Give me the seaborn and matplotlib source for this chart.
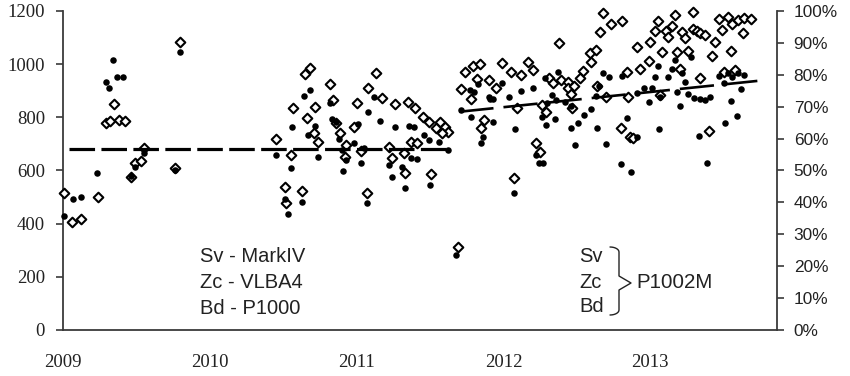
import matplotlib
matplotlib.use("Agg")
import matplotlib.pyplot as plt
import seaborn as sns
import numpy as np
from matplotlib.lines import Line2D
from matplotlib.transforms import IdentityTransform

# ---------------- data ----------------
diamond_points = [
    (2009.01, 514), (2009.06, 407), (2009.12, 416), (2009.24, 501), (2009.29, 778),
    (2009.32, 787), (2009.35, 849), (2009.38, 790), (2009.42, 785), (2009.46, 577),
    (2009.49, 627), (2009.53, 637), (2009.55, 686), (2009.76, 611), (2009.80, 1085),
    (2010.45, 719), (2010.55, 658), (2010.51, 539), (2010.52, 477), (2010.63, 524),
    (2010.57, 834), (2010.65, 962), (2010.68, 984), (2010.66, 799), (2010.72, 838),
    (2010.71, 740), (2010.74, 708), (2010.82, 924), (2010.84, 865), (2010.86, 778),
    (2010.89, 740), (2010.93, 696), (2010.92, 652), (2011.00, 853), (2010.98, 763),
    (2011.13, 968), (2011.08, 909), (2011.17, 872), (2011.03, 673), (2011.26, 849),
    (2011.35, 859), (2011.40, 836), (2011.45, 802), (2011.49, 784), (2011.57, 784),
    (2011.54, 759), (2011.60, 763), (2011.62, 746), (2011.58, 742), (2011.37, 708),
    (2011.41, 702), (2011.22, 690), (2011.32, 667), (2011.24, 646), (2011.33, 592),
    (2011.51, 587), (2011.07, 514),
    (2011.69, 313), (2011.74, 972), (2011.79, 993), (2011.84, 1000), (2011.82, 943),
    (2011.90, 940), (2011.71, 906), (2011.78, 868), (2011.95, 909), (2011.99, 1006),
    (2012.05, 972), (2012.12, 959), (2012.17, 1009), (2012.20, 978), (2012.09, 834),
    (2012.26, 846), (2011.87, 790), (2011.85, 759), (2012.07, 571), (2012.22, 702),
    (2012.25, 671),
    (2012.68, 1191), (2012.66, 1120), (2012.73, 1151), (2012.81, 1164), (2012.38, 1079),
    (2012.59, 1041), (2012.63, 1053), (2012.60, 1009), (2012.91, 1066), (2012.93, 981),
    (2012.84, 972), (2012.54, 976), (2012.52, 947), (2012.31, 947), (2012.34, 928),
    (2012.39, 940), (2012.44, 934), (2012.44, 909), (2012.48, 918), (2012.46, 888),
    (2012.64, 918), (2012.70, 878), (2012.85, 875), (2012.47, 834), (2012.29, 821),
    (2012.80, 759), (2012.86, 727), (2012.88, 721),
    (2013.29, 1198), (2013.17, 1185), (2013.05, 1164), (2013.03, 1125), (2013.11, 1126),
    (2013.15, 1144), (2013.22, 1122), (2013.12, 1101), (2013.24, 1097), (2013.29, 1131),
    (2013.32, 1126), (2013.34, 1116), (2013.37, 1110), (2013.47, 1169), (2013.53, 1179),
    (2013.56, 1151), (2013.60, 1166), (2013.64, 1172), (2013.69, 1170), (2013.49, 1129),
    (2013.63, 1118), (2013.44, 1085), (2013.00, 1085), (2013.08, 1047), (2013.18, 1044),
    (2013.26, 1050), (2013.42, 1031), (2013.55, 1051), (2012.99, 1013), (2013.20, 981),
    (2013.34, 947), (2013.50, 972), (2013.58, 978), (2013.07, 884), (2013.40, 749),
]

dot_points = [
    (2009.01, 429), (2009.07, 493), (2009.12, 499), (2009.23, 592), (2009.29, 932),
    (2009.31, 910), (2009.34, 1016), (2009.37, 953), (2009.41, 953), (2009.46, 579),
    (2009.49, 614), (2009.55, 667), (2009.76, 602), (2009.80, 1047),
    (2010.45, 658), (2010.55, 608), (2010.51, 492), (2010.53, 436), (2010.63, 483),
    (2010.56, 765), (2010.64, 880), (2010.68, 903), (2010.72, 767), (2010.67, 734),
    (2010.74, 652), (2010.82, 853), (2010.83, 793), (2010.86, 784), (2010.88, 717),
    (2010.90, 677), (2010.93, 640), (2010.91, 598), (2010.98, 705),
    (2011.01, 775), (2011.12, 875), (2011.08, 821), (2011.16, 787), (2011.05, 683),
    (2011.03, 627), (2011.26, 763), (2011.36, 767), (2011.39, 763), (2011.46, 734),
    (2011.49, 715), (2011.56, 708), (2011.62, 677), (2011.22, 621), (2011.24, 577),
    (2011.31, 614), (2011.37, 646), (2011.41, 642), (2011.33, 535), (2011.50, 545),
    (2011.07, 479),
    (2011.68, 282), (2011.83, 925), (2011.77, 903), (2011.80, 897), (2011.91, 868),
    (2011.93, 868), (2011.99, 931), (2011.90, 878), (2011.71, 828), (2011.78, 800),
    (2011.93, 784), (2011.86, 725), (2011.85, 702), (2012.04, 878), (2012.12, 900),
    (2012.20, 912), (2012.08, 755), (2012.07, 514), (2012.26, 800), (2012.22, 658),
    (2012.24, 627), (2012.27, 627), (2012.28, 947),
    (2012.37, 972), (2012.68, 968), (2012.72, 953), (2012.81, 956), (2012.33, 884),
    (2012.36, 865), (2012.42, 859), (2012.46, 843), (2012.30, 855), (2012.65, 918),
    (2012.35, 793), (2012.29, 771), (2012.55, 809), (2012.60, 830), (2012.51, 780),
    (2012.46, 759), (2012.64, 759), (2012.84, 796), (2012.49, 696), (2012.70, 700),
    (2012.80, 623), (2012.87, 596), (2012.63, 880),
    (2013.05, 993), (2013.17, 1016), (2013.15, 981), (2013.28, 1028), (2013.03, 950),
    (2013.12, 950), (2013.22, 968), (2013.24, 934), (2012.96, 909), (2013.01, 909),
    (2013.47, 956), (2013.53, 966), (2013.56, 950), (2013.60, 968), (2013.64, 959),
    (2013.50, 928), (2013.62, 906), (2012.91, 890), (2012.99, 859), (2013.07, 875),
    (2013.18, 897), (2013.26, 888), (2013.30, 872), (2013.34, 868), (2013.37, 865),
    (2013.41, 875), (2013.20, 843), (2013.55, 862), (2013.59, 805), (2013.51, 778),
    (2013.06, 756), (2013.33, 730), (2013.39, 629), (2012.91, 725),
]

diamond_years = [p[0] for p in diamond_points]
diamond_values = [p[1] for p in diamond_points]
dot_years = [p[0] for p in dot_points]
dot_values = [p[1] for p in dot_points]

mean_line_years = [2009.04, 2011.63]
mean_line_values = [680, 680]
trend_line_years = [2011.70, 2013.73]
trend_line_values = [821, 937]

year_ticks = [2009, 2010, 2011, 2012, 2013]
left_ticks = [0, 200, 400, 600, 800, 1000, 1200]
right_ticks = [0, 10, 20, 30, 40, 50, 60, 70, 80, 90, 100]

left_labels = ["Sv - MarkIV", "Zc - VLBA4", "Bd - P1000"]
right_labels = ["Sv", "Zc", "Bd"]
group_label = "P1002M"

# ---------------- figure ----------------
sns.set_style("white")
plt.rcParams["font.family"] = ["Liberation Sans", "DejaVu Sans"]

W, H = 850, 376
fig = plt.figure(figsize=(W / 100, H / 100), dpi=100)
ax = fig.add_axes([63 / W, 1 - 330 / H, (777 - 63) / W, (330 - 11) / H])

axis_color = "#3a3a3a"

sns.scatterplot(x=diamond_years, y=diamond_values, ax=ax, marker="D", s=24,
                facecolor="white", edgecolor="black", linewidth=1.5, zorder=3,
                clip_on=False)
sns.scatterplot(x=dot_years, y=dot_values, ax=ax, marker="o", s=22,
                color="black", linewidth=0, zorder=4, clip_on=False)

ax.plot(mean_line_years, mean_line_values, color="black", lw=2.3,
        linestyle=(0, (8.0, 2.0)), zorder=5, solid_capstyle="butt")
ax.plot(trend_line_years, trend_line_values, color="black", lw=1.9,
        linestyle=(0, (13, 3.8)), zorder=5)

ax.set_xlim(2009, 2009 + 714 / 146.8)
ax.set_ylim(0, 1200)

for s in ["top", "right"]:
    ax.spines[s].set_visible(False)
for s in ["left", "bottom"]:
    ax.spines[s].set_color(axis_color)
    ax.spines[s].set_linewidth(1.3)

ax.set_xticks(year_ticks)
ax.set_xticks([y + 0.5 for y in year_ticks[:-1]] + [2013.5], minor=True)
ax.set_xticklabels([str(y) for y in year_ticks], family="Liberation Serif",
                   fontsize=13.5, color="#222222")
ax.tick_params(axis="x", which="both", direction="inout", length=8, width=1.2,
               color=axis_color, pad=13)
ax.set_yticks(left_ticks)
ax.set_yticklabels([str(v) for v in left_ticks], family="Liberation Serif",
                   fontsize=13.5, color="#222222")
ax.tick_params(axis="y", direction="out", length=5, width=1.2, color=axis_color, pad=8)
ax.set_xlabel("")
ax.set_ylabel("")

ax2 = ax.twinx()
ax2.set_ylim(0, 100)
for s in ["top", "left", "bottom"]:
    ax2.spines[s].set_visible(False)
ax2.spines["right"].set_color(axis_color)
ax2.spines["right"].set_linewidth(1.3)
ax2.set_yticks(right_ticks)
ax2.set_yticklabels([f"{v}%" for v in right_ticks], family="Liberation Sans",
                    fontsize=12.4, color="#222222")
ax2.tick_params(axis="y", direction="out", length=5, width=1.2, color=axis_color, pad=7)

# ---------------- annotations ----------------
def fx(px):
    return px / W

def fy(py):
    return 1 - py / H

for txt, py in zip(left_labels, [257, 283, 309]):
    fig.text(fx(200), fy(py), txt, fontsize=14.5, va="center", ha="left",
             color="#222222", family="Liberation Sans")
for txt, py in zip(right_labels, [257, 283, 306]):
    fig.text(fx(579), fy(py), txt, fontsize=14.5, va="center", ha="left",
             color="#222222", family="Liberation Sans")
fig.text(fx(636), fy(283), group_label, fontsize=14.8, va="center", ha="left",
         color="#222222", family="Liberation Sans")

# curly brace (figure pixel coordinates, y measured from top)
t = np.linspace(0, np.pi / 2, 8)
top_hook = [(610 + 9 * np.sin(a), 247 + 5 * (1 - np.cos(a))) for a in t]
brace = top_hook + [(619, 276), (631, 283), (619, 290), (619, 310)]
bot_hook = [(619 - 9 * (1 - np.cos(a)), 310 + 5 * np.sin(a)) for a in t]
brace += bot_hook
bx = [p[0] for p in brace]
by = [H - p[1] for p in brace]
fig.add_artist(Line2D(bx, by, transform=IdentityTransform(), color="#222222", lw=1.0))

fig.savefig("out.png", dpi=100)
